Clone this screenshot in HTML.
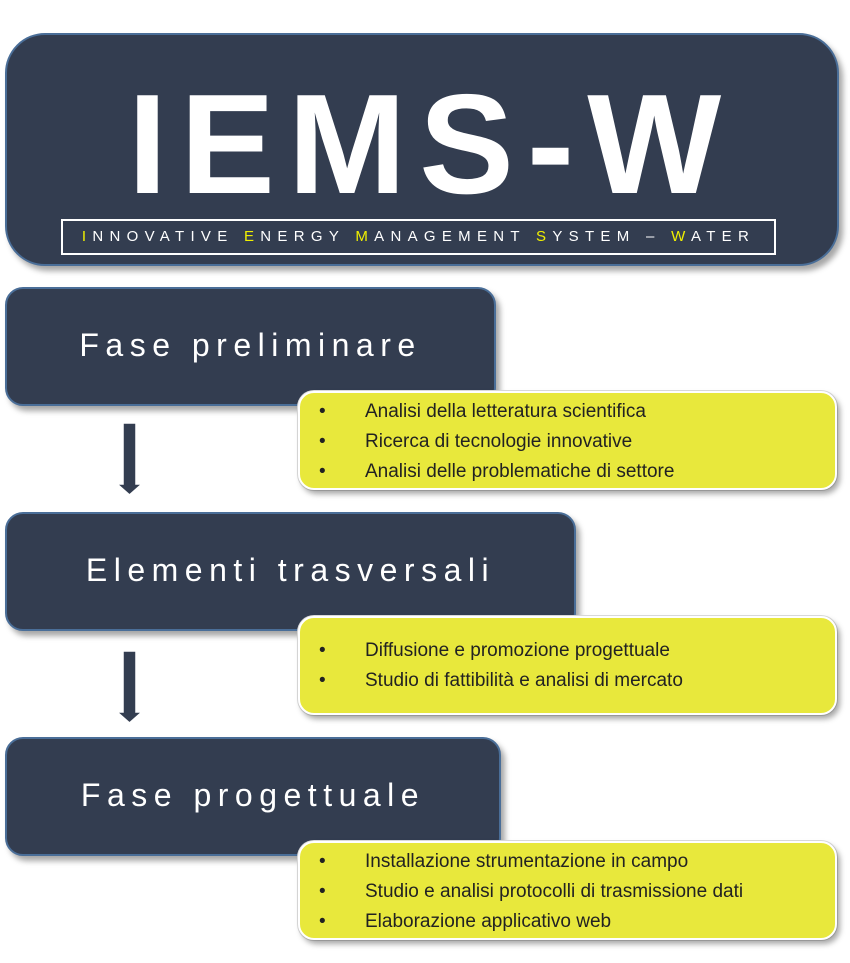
<!DOCTYPE html>
<html><head><meta charset="utf-8"><style>
body{margin:0;width:850px;height:963px;background:#fff;position:relative;overflow:hidden;font-family:"Liberation Sans",sans-serif}
.d{position:absolute;background:#333d50;border:2px solid #4a6e98;box-sizing:border-box;box-shadow:4px 5px 6px rgba(0,0,0,.35)}
.h{position:absolute;color:#fff;font-size:32px;letter-spacing:6.5px;text-align:center;white-space:nowrap}
.y{position:absolute;left:298px;width:539px;height:99px;background:#e8e83c;border:2px solid #fff;box-sizing:border-box;border-radius:16px;box-shadow:3px 4px 6px rgba(0,0,0,.35),0 0 0 1px #ddd}
.y div{position:absolute;left:65px;font-size:19px;color:#222;white-space:nowrap}
.y div:before{content:"•";position:absolute;left:-46px}
.arr{position:absolute;left:116px;width:28px}
</style></head><body>
<div class="d" style="left:5px;top:33px;width:834px;height:233px;border-radius:40px"></div>
<div style="position:absolute;left:6px;width:850px;top:70px;text-align:center;color:#fff;font-weight:bold;font-size:142px;letter-spacing:13px;line-height:150px">IEMS-W</div>
<div style="position:absolute;left:61px;top:219px;width:715px;height:36px;border:2px solid #fff;box-sizing:border-box;color:#fff;font-size:15px;letter-spacing:6.3px;text-align:center;line-height:32px;white-space:nowrap"><span style="color:#f0f000">I</span>NNOVATIVE <span style="color:#f0f000">E</span>NERGY <span style="color:#f0f000">M</span>ANAGEMENT <span style="color:#f0f000">S</span>YSTEM – <span style="color:#f0f000">W</span>ATER</div>

<div class="d" style="left:5px;top:287px;width:491px;height:119px;border-radius:18px"></div>
<div class="h" style="left:5px;width:491px;top:327px">Fase preliminare</div>
<div class="y" style="top:391px"><div style="top:8px">Analisi della letteratura scientifica</div><div style="top:38px">Ricerca di tecnologie innovative</div><div style="top:68px">Analisi delle problematiche di settore</div></div>
<svg class="arr" style="top:421px" height="76" viewBox="0 0 28 76"><path d="M7 2H20V63H26L13.5 74L1 63H7Z" fill="#333d50" stroke="#fff" stroke-width="1.5"/></svg>

<div class="d" style="left:5px;top:512px;width:571px;height:119px;border-radius:18px"></div>
<div class="h" style="left:5px;width:571px;top:552px">Elementi trasversali</div>
<div class="y" style="top:616px"><div style="top:22px">Diffusione e promozione progettuale</div><div style="top:52px">Studio di fattibilità e analisi di mercato</div></div>
<svg class="arr" style="top:649px" height="76" viewBox="0 0 28 76"><path d="M7 2H20V63H26L13.5 74L1 63H7Z" fill="#333d50" stroke="#fff" stroke-width="1.5"/></svg>

<div class="d" style="left:5px;top:737px;width:496px;height:119px;border-radius:18px"></div>
<div class="h" style="left:5px;width:496px;top:777px">Fase progettuale</div>
<div class="y" style="top:841px"><div style="top:8px">Installazione strumentazione in campo</div><div style="top:38px">Studio e analisi protocolli di trasmissione dati</div><div style="top:68px">Elaborazione applicativo web</div></div>
</body></html>
